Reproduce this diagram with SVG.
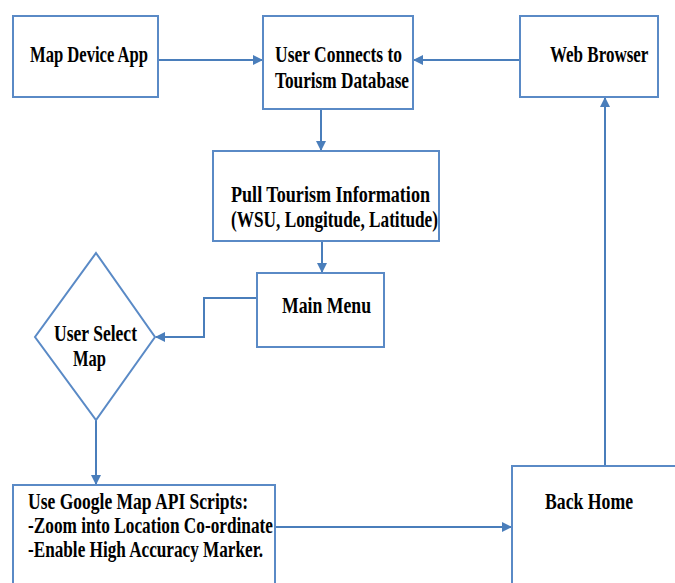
<svg xmlns="http://www.w3.org/2000/svg" width="675" height="583" viewBox="0 0 675 583">
  <style>
    .box { fill: #ffffff; stroke: #5a8ac6; stroke-width: 2; }
    .wire { fill: none; stroke: #4a7ebb; stroke-width: 2; }
    .lbl { font-family: "Liberation Serif", "Times New Roman", serif; font-weight: bold; font-size: 23px; fill: #000000; }
  </style>
  <defs>
    <marker id="arrow" viewBox="0 0 10 10" refX="9" refY="5" markerWidth="5" markerHeight="5" orient="auto" markerUnits="strokeWidth">
      <path d="M0,0 L10,5 L0,10 Z" fill="#4a7ebb"/>
    </marker>
  </defs>
  <rect width="675" height="583" fill="#ffffff"/>

  <!-- connectors -->
  <g id="connectors">
    <path class="wire" d="M158,60 H262" marker-end="url(#arrow)"/>
    <path class="wire" d="M520,60 H414" marker-end="url(#arrow)"/>
    <path class="wire" d="M321,109 V150" marker-end="url(#arrow)"/>
    <path class="wire" d="M322,241 V272" marker-end="url(#arrow)"/>
    <path class="wire" d="M257,298 H204 V337 H156" marker-end="url(#arrow)"/>
    <path class="wire" d="M96,420 V484" marker-end="url(#arrow)"/>
    <path class="wire" d="M275,527 H511" marker-end="url(#arrow)"/>
    <path class="wire" d="M605,466 V98" marker-end="url(#arrow)"/>
  </g>

  <g id="map-device-app">
    <rect class="box" x="13" y="16" width="145" height="81"/>
    <text class="lbl" x="30" y="62" textLength="118" lengthAdjust="spacingAndGlyphs">Map Device App</text>
  </g>

  <g id="user-connects">
    <rect class="box" x="263" y="16" width="150" height="93"/>
    <text class="lbl" x="275" y="62" textLength="127" lengthAdjust="spacingAndGlyphs">User Connects to</text>
    <text class="lbl" x="275" y="88" textLength="134" lengthAdjust="spacingAndGlyphs">Tourism Database</text>
  </g>

  <g id="web-browser">
    <rect class="box" x="520" y="16" width="138" height="81"/>
    <!-- horizontally condensed label -->
    <text class="lbl" transform="matrix(0.74 0 0 1 550 62)" x="0" y="0">Web Browser</text>
  </g>

  <g id="pull-info">
    <rect class="box" x="213" y="151" width="226" height="90"/>
    <text class="lbl" x="231" y="202" textLength="199" lengthAdjust="spacingAndGlyphs">Pull Tourism Information</text>
    <text class="lbl" x="231" y="227" textLength="207" lengthAdjust="spacingAndGlyphs">(WSU, Longitude, Latitude)</text>
  </g>

  <g id="main-menu">
    <rect class="box" x="257" y="273" width="127" height="74"/>
    <text class="lbl" x="282" y="313" textLength="89" lengthAdjust="spacingAndGlyphs">Main Menu</text>
  </g>

  <g id="user-select-map">
    <path class="box" d="M96,253 L155,337 L96,420 L35,337 Z"/>
    <text class="lbl" x="54" y="341" textLength="83" lengthAdjust="spacingAndGlyphs">User Select</text>
    <text class="lbl" x="73" y="366" textLength="33" lengthAdjust="spacingAndGlyphs">Map</text>
  </g>

  <g id="google-api">
    <rect class="box" x="13" y="485" width="262" height="130"/>
    <text class="lbl" x="28" y="509" textLength="220" lengthAdjust="spacingAndGlyphs">Use Google Map API Scripts:</text>
    <text class="lbl" x="28" y="533" textLength="245" lengthAdjust="spacingAndGlyphs">-Zoom into Location Co-ordinate</text>
    <text class="lbl" x="28" y="557" textLength="235" lengthAdjust="spacingAndGlyphs">-Enable High Accuracy Marker.</text>
  </g>

  <g id="back-home">
    <rect class="box" x="512" y="466" width="200" height="150"/>
    <text class="lbl" x="545" y="509" textLength="88" lengthAdjust="spacingAndGlyphs">Back Home</text>
  </g>
</svg>
